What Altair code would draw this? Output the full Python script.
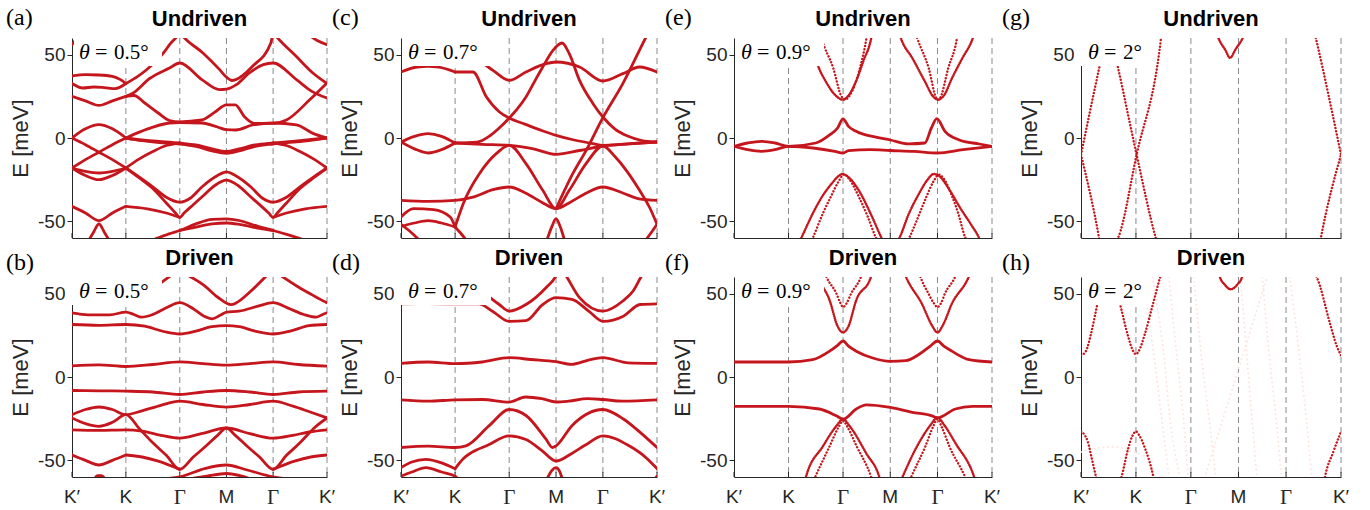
import altair as alt
import pandas as pd

RED = "#c5161d"
INK = "#262626"
DASH_GRAY = "#8a8a8a"
FAINT = "#fde6e1"

# high-symmetry path: K', K, Gamma, M, Gamma, K'
K_PATH = [0.0, 1.0, 2.0, 2.866, 3.732, 4.732]
SANS_POS = [0.0, 1.0, 2.866, 4.732]
SANS_LAB = ["K′", "K", "M", "K′"]
SERIF_POS = [2.0, 3.732]
SERIF_LAB = ["Γ", "Γ"]
E_TICKS = [-50, 0, 50]

PANEL_W = [255, 256, 258, 260]
GAP_W = [1, 74, 77, 89]          # spacer before each panel column
LABEL_DX = [-66, -69, -69, -79]  # panel letter offset from panel's left edge
PANEL_H = 200
ROW_GAP = 39

TOP_PANELS = [("a", "0.5"), ("c", "0.7"), ("e", "0.9"), ("g", "2")]
BOT_PANELS = [("b", "0.5"), ("d", "0.7"), ("f", "0.9"), ("h", "2")]
HIDE_AXIS_TOP = {"a": False, "b": True, "c": False, "d": True,
                 "e": False, "f": False, "g": True, "h": False}

# ---------------- (a) undriven 0.5 deg ----------------
A_SOLID = {
    "t56L": [(0, 56), (0.08, 59.5), (0.15, 63)],
    "t56R": [(4.35, 63), (4.55, 58.5), (4.732, 56)],
    "lens1": [(0, 37.3), (0.25, 38), (0.5, 37.8), (0.75, 37), (0.9, 35), (1, 32.7)],
    "lens2": [(0, 32.7), (0.2, 30), (0.4, 30.6), (0.6, 30.2), (0.8, 29.6), (1, 32.7)],
    "c4": [(0, 25), (0.25, 22.3), (0.5, 19.6), (0.75, 22.3), (1, 25)],
    "B": [(1, 32.7), (1.2, 36.5), (1.4, 41.4), (1.72, 52), (1.81, 56), (1.97, 61.5), (2.01, 63),
          (2.06, 61), (2.43, 51), (2.74, 41), (2.866, 36.5), (2.97, 34.5), (3.04, 35), (3.35, 43),
          (3.69, 57), (3.74, 63), (3.79, 61), (4.16, 49), (4.47, 39), (4.732, 32.7)],
    "A": [(1, 25), (1.12, 26.7), (1.44, 35.7), (1.81, 42), (2, 45), (2.41, 35), (2.74, 29),
          (2.866, 29.3), (3.05, 32), (3.29, 39), (3.55, 44), (3.732, 45), (4.165, 35), (4.45, 28),
          (4.732, 24)],
    "up9": [(1, 25), (1.15, 25.5), (1.35, 21), (1.6, 15), (1.81, 10.5), (2, 9.7), (2.41, 10.8),
            (2.65, 15.5), (2.866, 19.9), (3.03, 19.9), (3.2, 12.8), (3.38, 8.8), (3.732, 8.8),
            (3.98, 10.8), (4.41, 22.9), (4.732, 33)],
    "dn9": [(1, 0), (1.25, 3.5), (1.5, 6.5), (1.81, 9), (2, 9.3), (2.41, 9), (2.7, 6.6),
            (2.866, 5), (3.04, 4.8), (3.35, 7.8), (3.732, 9), (4.165, 7.9), (4.47, 2.8), (4.732, 0)],
    "bump": [(0, 0), (0.25, 5.5), (0.5, 8), (0.75, 5.5), (1, 0)],
    "X1": [(0, 0), (0.25, -4), (0.5, -8.5), (0.75, -13), (1, -18)],
    "X2": [(0, -18), (0.25, -13), (0.5, -8.5), (0.75, -4), (1, 0)],
    "lensL1": [(0, -18), (0.25, -20), (0.5, -21), (0.75, -20), (1, -18)],
    "lensL2": [(0, -18), (0.25, -22.5), (0.5, -25), (0.75, -22.5), (1, -18)],
    "flat1": [(1, 0), (1.3, -1.2), (1.62, -2), (2, -3), (2.3, -4.2), (2.6, -6.5), (2.866, -8.1),
              (3.1, -6.5), (3.4, -4.2), (3.732, -3), (4.1, -2), (4.4, -1), (4.732, 0)],
    "flat2": [(1, 0), (1.3, -1.6), (1.62, -2.8), (2, -3.6), (2.3, -5), (2.6, -7.8), (2.866, -9.2),
              (3.1, -7.8), (3.4, -5), (3.732, -3.6), (4.1, -2.5), (4.4, -1.5), (4.732, 0)],
    "riseL": [(1, -18), (1.25, -12.5), (1.5, -8.1), (1.75, -4.5), (2, -3)],
    "riseR": [(3.732, -3), (3.98, -4.5), (4.23, -8.1), (4.48, -12.5), (4.732, -18)],
    "V1": [(1, -18), (1.25, -23.5), (1.5, -29.3), (1.75, -35.5), (2, -38.5), (2.2, -36),
           (2.41, -29.4), (2.7, -22.5), (2.866, -20.3), (3.03, -22.5), (3.32, -29.4), (3.53, -36),
           (3.732, -38.5), (3.98, -35.5), (4.23, -29.3), (4.48, -23.5), (4.732, -18)],
    "V2": [(1, -18), (1.25, -24), (1.5, -30.3), (1.75, -39), (1.92, -45), (2, -47.6), (2.08, -45),
           (2.25, -40), (2.41, -35.4), (2.65, -28.5), (2.866, -25.3), (3.08, -28.5), (3.32, -35.4),
           (3.48, -40), (3.65, -45), (3.732, -47.6), (3.81, -45), (3.98, -39), (4.23, -30.3),
           (4.48, -24), (4.732, -18)],
    "low1": [(0, -41), (0.25, -45), (0.5, -49.6), (0.75, -45), (1, -41)],
    "lowcap": [(0.3, -62), (0.4, -56.5), (0.5, -51.6), (0.6, -56.5), (0.7, -62)],
    "low2": [(1, -41), (1.4, -42.5), (1.75, -45), (2, -47.6)],
    "low3": [(3.732, -47.6), (3.98, -45), (4.33, -42.5), (4.732, -41)],
    "arch1": [(1.55, -60.5), (1.8, -57.5), (2, -55.5), (2.3, -51.5), (2.6, -48.8), (2.866, -48.5),
              (3.1, -49.5), (3.45, -53), (3.732, -55.5), (4.0, -58), (4.25, -60.5)],
    "arch2": [(2, -55.5), (2.3, -53.5), (2.6, -51.5), (2.866, -51), (3.13, -52), (3.45, -54),
              (3.732, -55.5)],
}

# ---------------- (b) driven 0.5 deg ----------------
B_SOLID = {
    "b1": [(1.25, 48), (1.54, 54), (1.86, 61.5)],
    "b2": [(2.15, 61), (2.45, 55), (2.7, 48), (2.95, 43.4), (3.05, 44.5), (3.3, 51), (3.6, 60.5)],
    "b3": [(3.87, 61), (4.2, 54), (4.5, 48.5), (4.732, 44.5)],
    "b4": [(0, 38.5), (0.3, 37.3), (0.7, 37.3), (1, 38.9), (1.15, 37.5), (1.29, 35.9), (1.5, 37.5),
           (1.75, 41.5), (2, 44.6), (2.25, 41), (2.45, 36.5), (2.6, 34.9), (2.75, 37), (2.866, 38.9),
           (3.1, 39.5), (3.45, 42.5), (3.732, 44.6), (4.0, 41.5), (4.3, 37.5), (4.53, 35.9),
           (4.65, 37.5), (4.732, 38.5)],
    "b5": [(0, 31.5), (0.5, 31), (1, 31.5), (1.35, 30.5), (1.7, 27.3), (2, 25.8), (2.3, 27.5),
           (2.6, 30.2), (2.866, 30.8), (3.1, 30.2), (3.4, 27.5), (3.732, 25.8), (4.05, 27.5),
           (4.4, 30.8), (4.732, 31.5)],
    "b6": [(0, 6.7), (0.5, 7.3), (1, 6.3), (1.5, 7.5), (2, 9.1), (2.43, 8), (2.866, 7.1), (3.3, 8),
           (3.732, 9.1), (4.2, 7.5), (4.732, 6.5)],
    "b7": [(0, -8.1), (0.5, -8.3), (1, -8.5), (1.5, -9), (2, -10.5), (2.43, -9), (2.866, -8.1),
           (3.3, -9), (3.732, -10.5), (4.2, -9), (4.732, -8.5)],
    "bY": [(0, -22.6), (0.25, -19.5), (0.5, -18), (0.75, -19.5), (1, -22.6), (1.3, -20.3),
           (1.65, -17), (2, -14.5), (2.43, -16.5), (2.866, -18.1), (3.3, -16.5), (3.732, -14.5),
           (4.1, -17.5), (4.42, -21), (4.732, -24.5)],
    "bX": [(0, -24.6), (0.25, -28), (0.5, -29.6), (0.75, -27.2), (1, -22.6), (1.25, -31),
           (1.5, -39.5), (1.75, -47), (2, -55.4), (2.25, -48), (2.476, -41.7), (2.7, -35),
           (2.866, -30.6), (3.03, -35), (3.256, -41.7), (3.48, -48), (3.732, -55.4), (3.98, -47),
           (4.23, -39.5), (4.48, -31), (4.732, -24.6)],
    "bZ": [(0, -31.7), (0.5, -32), (1, -31.7), (1.3, -32.5), (1.65, -35), (2, -36.7), (2.4, -34),
           (2.866, -30.6), (3.3, -34), (3.732, -36.7), (4.1, -35), (4.4, -33), (4.732, -31.7)],
    "bL1": [(0, -46.8), (0.25, -50), (0.5, -52.8), (0.75, -50), (1, -46.8)],
    "bL2": [(1, -46.8), (1.3, -48), (1.6, -50.5), (2, -55.4)],
    "bL3": [(3.732, -55.4), (4.13, -50.5), (4.43, -48), (4.732, -46.8)],
    "barch": [(1.75, -61), (2, -59.9), (2.476, -54.8), (2.866, -52.8), (3.25, -55.8),
              (3.732, -59.9), (3.95, -61)],
    "barch2": [(2.2, -61), (2.5, -59.5), (2.866, -57.9), (3.15, -59.5), (3.3, -61)],
    "btiny": [(0.42, -61), (0.47, -59.2), (0.55, -59.2), (0.61, -61)],
}

# ---------------- (c) undriven 0.7 deg ----------------
C_SOLID = {
    "tl": [(0, 39.6), (0.3, 42.6), (0.5, 43), (0.7, 42.5), (1, 39.6)],
    "U": [(1.25, 49), (1.52, 44.6), (1.7, 40.6), (2, 34.6), (2.31, 39.6), (2.68, 44.6),
          (2.866, 45.6), (3.3, 42.6), (3.732, 34.2), (4.1, 38.6), (4.41, 42.6), (4.732, 39.6)],
    "diag": [(1, 39.6), (1.33, 39.6), (1.58, 24.6), (1.82, 15.6), (2, 12), (2.3, 8.2), (2.6, 4.5),
             (2.866, 1.6), (3.2, -1.2), (3.55, -3.4), (3.732, -4.4), (4.2, -3.5), (4.732, -2.4)],
    "Mpeak": [(1, -3), (1.4, -2.5), (1.65, 1.5), (1.85, 7), (2, 12), (2.15, 17.5), (2.31, 24.6),
              (2.47, 34), (2.62, 42.6), (2.81, 52.6), (2.977, 57), (3.11, 50.6), (3.30, 34.6),
              (3.55, 20.6), (3.732, 12.6), (3.95, 5.5), (4.2, 1), (4.45, -1.5), (4.732, -2.4)],
    "long": [(2.866, -42.4), (3.175, -21.4), (3.423, -7.4), (3.732, 12.2), (4.1, 32.6),
             (4.53, 60.6), (4.6, 65)],
    "flat": [(1, -3), (1.5, -3.8), (2, -4.4), (2.45, -6.5), (2.866, -9.8), (3.3, -7.5),
             (3.732, -4.8), (4.2, -3.5), (4.732, -2.4)],
    "lensU": [(0, -2.4), (0.25, 1), (0.5, 2.6), (0.75, 1), (1, -3)],
    "lensD": [(0, -2.4), (0.25, -6.5), (0.5, -9), (0.75, -7), (1, -3)],
    "par": [(1, -53.4), (1.15, -39.4), (1.45, -21.4), (1.76, -9.4), (2, -4.4), (2.31, -15.4),
            (2.62, -31.4), (2.866, -42.4), (3.11, -31.4), (3.42, -15.4), (3.732, -4.8),
            (3.95, -11), (4.164, -19.4), (4.41, -31.4), (4.6, -42), (4.732, -51.8)],
    "m37": [(0, -37.4), (0.5, -38), (1, -37.4), (1.33, -35.5), (1.7, -31), (2, -29.4), (2.3, -33),
            (2.6, -38.5), (2.866, -42.4), (3.13, -38.5), (3.43, -33), (3.732, -29.4), (4.1, -33),
            (4.4, -36.5), (4.732, -37.4)],
    "bl1": [(0, -47.4), (0.23, -42.4), (0.6, -43), (0.91, -47.4), (1, -53.4)],
    "bl2": [(0, -53), (0.25, -51), (0.5, -49.6), (0.75, -51), (1, -53.4)],
    "bl3": [(0, -51.8), (0.2, -57), (0.33, -61)],
    "Kdn": [(1, -53.4), (1.1, -57), (1.2, -61)],
    "Mcap": [(2.7, -61), (2.79, -53), (2.866, -48.4), (2.94, -53), (3.02, -61)],
    "Rdn": [(4.53, -61), (4.62, -57), (4.732, -51.8)],
}

# ---------------- (d) driven 0.7 deg ----------------
D_SOLID = {
    "top": [(0, 43.9), (0.5, 44), (1, 43.9), (1.44, 43.9), (1.69, 39.5), (2, 33.4), (2.31, 33.8),
            (2.62, 43.5), (2.866, 47.6), (3.16, 46.6), (3.47, 39.5), (3.732, 33.4), (4.11, 36.5),
            (4.42, 43.5), (4.732, 43.9)],
    "top2L": [(1.3, 56), (1.57, 49.6), (1.815, 43.5), (2, 39.5), (2.31, 43.5), (2.68, 53.6),
              (2.866, 60.7), (2.9, 63)],
    "top2R": [(3.0, 63), (3.05, 60.7), (3.30, 47.6), (3.732, 39.5), (4.1, 45.6), (4.29, 51.6),
              (4.45, 60.7), (4.5, 63)],
    "d7": [(0, 8.2), (0.5, 9), (1, 8), (1.5, 9), (2, 11.6), (2.4, 10.5), (2.866, 9.2), (3.15, 7.6),
           (3.45, 10), (3.732, 11.6), (4.2, 8.5), (4.732, 8.2)],
    "d14": [(0, -13.7), (0.5, -14.5), (1, -13.7), (1.5, -13.5), (2, -15.1), (2.3, -12), (2.6, -13),
            (2.866, -15), (3.1, -14.5), (3.45, -13), (3.732, -13.5), (4.1, -14.5), (4.732, -13.7)],
    "Gpk": [(0, -42.3), (0.5, -41.5), (1, -42.3), (1.2, -41.3), (1.63, -29.2), (2, -19.5),
            (2.31, -23.1), (2.68, -37.3), (2.8, -42.3), (2.866, -41.3), (3.16, -29.2),
            (3.732, -19.5), (4.11, -25.2), (4.42, -33.2), (4.732, -42.3)],
    "Gpk2": [(1, -55), (1.15, -49), (1.3, -45.4), (1.6, -41), (2, -35.3), (2.31, -37.5),
             (2.6, -44), (2.866, -50.4), (3.15, -46), (3.4, -41), (3.732, -35.3), (4.2, -41),
             (4.55, -49), (4.732, -55)],
    "bl1": [(0, -54.4), (0.2, -51), (0.46, -49.4), (0.75, -51.5), (1, -55)],
    "bl2": [(0, -59.5), (0.2, -57), (0.46, -54.4), (0.75, -57), (1, -59.5), (1.05, -61)],
    "Mcap": [(2.7, -61), (2.79, -56), (2.866, -54.4), (2.93, -56.5), (2.98, -61)],
    "rdot": [(4.70, -61), (4.732, -59.5)],
}

# ---------------- (e) undriven 0.9 deg ----------------
E_SOLID = {
    "up": [(0, -5), (0.25, -3), (0.5, -2), (0.75, -3), (1, -5), (1.5, -3), (1.76, 2), (1.9, 6),
           (2, 11.5), (2.1, 7), (2.24, 4), (2.6, 0.5), (2.866, -1.2), (3.2, -3.5), (3.5, -3),
           (3.62, 6), (3.72, 11.6), (3.87, 4), (4.12, -1), (4.5, -3.6), (4.732, -5)],
    "dn": [(0, -5), (0.25, -7), (0.5, -8), (0.75, -7), (1, -5), (1.45, -6), (1.85, -8), (2, -9),
           (2.1, -7.6), (2.5, -7), (2.866, -7.5), (3.3, -8), (3.732, -9), (4.2, -7), (4.732, -5)],
}
E_DENSE = {
    "pGo": [(1.40, 61), (1.515, 46), (1.7, 33), (1.9, 24.5), (1.99, 23), (2.1, 25.5), (2.25, 35),
            (2.37, 46), (2.518, 60), (2.53, 62)],
    "pG2o": [(3.04, 62), (3.06, 60), (3.27, 48), (3.50, 34), (3.65, 25), (3.74, 23), (3.85, 25.5),
             (4.0, 36), (4.19, 48), (4.38, 60), (4.4, 62)],
    "vGo": [(1.22, -61), (1.24, -59.6), (1.45, -45), (1.6, -36), (1.8, -27), (1.93, -22.5),
            (1.98, -21.6), (2.08, -23), (2.3, -32), (2.5, -45), (2.7, -59.6), (2.72, -61)],
    "vG2o": [(3.02, -61), (3.04, -59.6), (3.2, -46), (3.4, -33), (3.55, -25), (3.66, -21.6),
             (3.77, -23), (3.95, -31), (4.15, -42), (4.35, -52), (4.49, -59.6), (4.51, -61)],
}
E_DOTTED = {
    "pGi": [(1.59, 62), (1.606, 60), (1.82, 42), (1.97, 25), (2.04, 23), (2.11, 25), (2.31, 42),
            (2.43, 60), (2.44, 62)],
    "pG2i": [(3.34, 62), (3.36, 60), (3.57, 42), (3.71, 24), (3.745, 23), (3.78, 24), (3.93, 42),
             (4.09, 60), (4.1, 62)],
    "vGi": [(1.43, -61), (1.45, -59.6), (1.62, -46), (1.78, -35), (1.92, -26), (2.02, -21.8),
            (2.12, -25), (2.3, -36), (2.45, -47), (2.6, -59.6), (2.62, -61)],
    "vG2i": [(3.2, -61), (3.22, -59.6), (3.37, -48), (3.52, -36), (3.66, -26), (3.76, -22),
             (3.86, -25), (4.0, -35), (4.12, -46), (4.24, -59.6), (4.26, -61)],
}

# ---------------- (f) driven 0.9 deg ----------------
F_SOLID = {
    "up": [(0, 9), (0.5, 9), (1, 9), (1.444, 10.4), (1.753, 15.5), (1.9, 19), (2, 21.6),
           (2.1, 18.5), (2.242, 15.5), (2.545, 11.4), (2.866, 9.4), (3.15, 9.8), (3.39, 13.5),
           (3.6, 18.5), (3.732, 21.6), (3.85, 18.5), (3.996, 15.5), (4.31, 10.4), (4.732, 9)],
    "dn": [(0, -17.6), (1, -17.6), (1.568, -19.2), (1.877, -23.3), (2, -25.3), (2.242, -19.2),
           (2.424, -16.7), (2.866, -18.2), (3.27, -21.2), (3.63, -23.3), (3.732, -24.5),
           (4.06, -19.2), (4.37, -17.6), (4.732, -17.6)],
}
F_DENSE = {
    "pGo": [(1.52, 62), (1.537, 60.4), (1.753, 46.1), (1.9, 30.5), (2, 26.7), (2.1, 30.5),
            (2.242, 46.1), (2.515, 60.4), (2.53, 62)],
    "pG2o": [(3.13, 62), (3.15, 60.4), (3.445, 44), (3.63, 31), (3.732, 26.7), (3.83, 31),
             (3.996, 44), (4.31, 60.4), (4.33, 62)],
    "vGo": [(1.31, -61.5), (1.32, -60), (1.63, -41.6), (1.877, -29.4), (2, -25.3), (2.12, -29.4),
            (2.424, -45.7), (2.666, -60), (2.68, -61.5)],
    "vG2o": [(3.07, -61.5), (3.09, -60), (3.39, -39.6), (3.6, -29), (3.732, -24.3), (3.86, -29),
             (4.06, -39.6), (4.405, -60), (4.42, -61.5)],
}
F_DOTTED = {
    "pGi": [(1.67, 62), (1.69, 60.4), (1.877, 50.2), (1.95, 44.5), (2, 42), (2.07, 44.5),
            (2.151, 50.2), (2.333, 60.4), (2.35, 62)],
    "pG2i": [(3.4, 62), (3.416, 60.4), (3.565, 50.2), (3.66, 44.5), (3.732, 42), (3.8, 44.5),
             (3.87, 50.2), (4.06, 60.4), (4.08, 62)],
    "vGi": [(1.47, -61.5), (1.49, -60), (1.753, -41.6), (1.92, -30), (2, -26.3), (2.08, -30),
            (2.25, -41.6), (2.515, -60), (2.53, -61.5)],
    "vG2i": [(3.23, -61.5), (3.25, -60), (3.51, -41.6), (3.65, -30), (3.732, -25.3), (3.81, -30),
             (3.95, -41.6), (4.24, -60), (4.26, -61.5)],
}

# ---------------- (g) undriven 2 deg ----------------
G_DOTTED = {
    "a": [(0, -10), (0.327, 41.4), (0.43, 57)],
    "b": [(0, -10), (0.327, -59.6), (0.34, -62)],
    "c": [(0.55, 60), (0.679, 41.4), (1.012, -10), (1.358, -59.6), (1.37, -61)],
    "d": [(0.66, -61), (0.679, -59.6), (1.012, -10), (1.455, 59.6), (1.46, 61)],
    "f": [(4.26, 62), (4.277, 59.6), (4.732, -10)],
    "g": [(4.36, -61), (4.368, -59.6), (4.732, -10)],
}
G_DENSE = {
    "M": [(2.48, 62), (2.488, 61.2), (2.622, 53.1), (2.714, 48.1), (2.81, 53.1), (2.96, 61.2),
          (2.97, 62)],
}

# ---------------- (h) driven 2 deg ----------------
H_DOTTED = {
    "a": [(0, 13), (0.092, 15.7), (0.184, 26.2), (0.276, 40.4), (0.35, 52)],
    "b": [(0.65, 52), (0.736, 40.4), (0.859, 24.2), (0.95, 15.5), (1.0, 13.6), (1.05, 15.5),
          (1.166, 26.2), (1.3, 42.6), (1.44, 59.8), (1.46, 62)],
    "c": [(0, -32.7), (0.06, -34.5), (0.123, -38.8), (0.2, -49.5), (0.276, -60.2), (0.29, -62)],
    "d": [(0.72, -62), (0.736, -60.2), (0.859, -42.9), (0.94, -35), (1, -32.7), (1.06, -35),
          (1.166, -42.9), (1.319, -60.2), (1.33, -62)],
    "f": [(4.25, 62), (4.29, 59.8), (4.53, 32.3), (4.65, 19), (4.732, 13)],
    "g": [(4.43, -62), (4.44, -60.2), (4.593, -44.9), (4.732, -32.7)],
}
H_DENSE = {
    "M": [(2.52, 62), (2.53, 59.8), (2.61, 55.7), (2.725, 52.6), (2.85, 55.7), (2.93, 59.8),
          (2.94, 62)],
}
H_FAINT = {
    "f1": [(2.25, -60.5), (3.385, 59.8)],
    "f2": [(0, -45), (0.12, -44), (0.55, -41.9), (0.98, -45), (1.3, -50)],
    "f3": [(1.12, 60), (1.3, 20), (1.45, -20), (1.6, -60)],
    "f4": [(1.3, 60), (1.5, 15), (1.62, -25), (1.8, -60)],
    "f5": [(1.6, 60), (1.72, 20), (1.85, -20), (1.95, -60)],
    "f6": [(2.05, 60), (2.2, 10), (2.35, -30), (2.45, -60)],
    "f7": [(2.9, 60), (3.0, 20), (3.1, -20), (3.2, -60)],
    "f8": [(3.3, 60), (3.42, 15), (3.55, -25), (3.65, -60)],
    "f9": [(3.8, 60), (3.95, 20), (4.1, -25), (4.2, -60)],
}

PANEL_DATA = {
    "a": (A_SOLID, {}, {}, {}),
    "b": (B_SOLID, {}, {}, {}),
    "c": (C_SOLID, {}, {}, {}),
    "d": (D_SOLID, {}, {}, {}),
    "e": (E_SOLID, E_DENSE, E_DOTTED, {}),
    "f": (F_SOLID, F_DENSE, F_DOTTED, {}),
    "g": ({}, G_DENSE, G_DOTTED, {}),
    "h": ({}, H_DENSE, H_DOTTED, H_FAINT),
}


def to_df(bands):
    rows = []
    for name, pts in bands.items():
        for u, e in pts:
            rows.append({"band": name, "x": u, "E": e})
    return pd.DataFrame(rows)


XENC = alt.X("x:Q", scale=alt.Scale(domain=[0, 4.732], nice=False, zero=False),
             axis=alt.Axis(values=K_PATH, labels=False, ticks=False, title=None, grid=False,
                           domainColor=INK, zindex=0))
YENC = alt.Y("E:Q", scale=alt.Scale(domain=[-60, 60], nice=False, zero=False),
             axis=alt.Axis(values=E_TICKS, title="E [meV]", grid=False, tickSize=5,
                           labelPadding=2, titlePadding=5, zindex=0,
                           labelExpr="replace(datum.label, '−', '-')"))

ONE = pd.DataFrame({"k": [0]})


def panel(letter, theta, title, width, bottom):
    solid, dense, dotted, faint = PANEL_DATA[letter]
    layers = []
    layers.append(alt.Chart(pd.DataFrame({"x": K_PATH[1:]})).mark_rule(
        strokeDash=[6, 4], color=DASH_GRAY, strokeWidth=1).encode(x=XENC))
    layers.append(alt.Chart(pd.DataFrame({"x": K_PATH})).mark_rule(
        color=INK, strokeWidth=1).encode(x=XENC, y=alt.value(PANEL_H - 5), y2=alt.value(PANEL_H)))
    if faint:
        layers.append(alt.Chart(to_df(faint)).mark_line(
            clip=True, interpolate="monotone", color=FAINT, strokeWidth=2.0,
            strokeDash=[0.1, 4.5], strokeCap="round").encode(x=XENC, y=YENC, detail="band:N"))
    if solid:
        layers.append(alt.Chart(to_df(solid)).mark_line(
            clip=True, interpolate="monotone", color=RED, strokeWidth=2.8,
            strokeCap="round").encode(x=XENC, y=YENC, detail="band:N"))
    if dense:
        layers.append(alt.Chart(to_df(dense)).mark_line(
            clip=True, interpolate="monotone", color=RED, strokeWidth=2.5,
            strokeDash=[0.1, 1.9], strokeCap="round").encode(x=XENC, y=YENC, detail="band:N"))
    if dotted:
        layers.append(alt.Chart(to_df(dotted)).mark_line(
            clip=True, interpolate="monotone", color=RED, strokeWidth=2.4,
            strokeDash=[0.1, 3.2], strokeCap="round").encode(x=XENC, y=YENC, detail="band:N"))
    x0 = -7 if HIDE_AXIS_TOP[letter] else 2
    x1 = 66 if theta == "2" else 90
    layers.append(alt.Chart(ONE).mark_rect(color="white").encode(
        x=alt.value(x0), x2=alt.value(x1), y=alt.value(0), y2=alt.value(28)))
    layers.append(alt.Chart(ONE).mark_text(
        text="θ", font="Liberation Serif", fontStyle="italic", fontSize=22, align="left",
        baseline="alphabetic", color="black").encode(x=alt.value(7), y=alt.value(21)))
    layers.append(alt.Chart(ONE).mark_text(
        text="=", font="Liberation Serif", fontSize=22, align="left",
        baseline="alphabetic", color="black").encode(x=alt.value(23), y=alt.value(21)))
    layers.append(alt.Chart(ONE).mark_text(
        text=theta + "°", font="Liberation Serif", fontSize=21, align="left",
        baseline="alphabetic", color="black").encode(x=alt.value(42), y=alt.value(21)))
    if bottom:
        layers.append(alt.Chart(pd.DataFrame({"x": SANS_POS, "lab": SANS_LAB})).mark_text(
            font="Liberation Sans", fontSize=19, baseline="top", align="center", color=INK
        ).encode(x=XENC, y=alt.value(PANEL_H + 11), text="lab:N"))
        layers.append(alt.Chart(pd.DataFrame({"x": SERIF_POS, "lab": SERIF_LAB})).mark_text(
            font="Liberation Serif", fontSize=21, baseline="top", align="center", color=INK
        ).encode(x=XENC, y=alt.value(PANEL_H + 10), text="lab:N"))
    return alt.layer(*layers).properties(
        width=width, height=PANEL_H,
        title=alt.TitleParams(title, font="Liberation Sans", fontSize=22, fontWeight="bold",
                              color="black", anchor="middle", offset=7, frame="group"))


def spacer(w, letter, dx, bottom):
    # an empty gap column that carries the panel letter of the panel to its right
    return alt.Chart(ONE).mark_text(
        text="(" + letter + ")", font="Liberation Serif", fontSize=24, align="left",
        baseline="middle", color="black").encode(
        x=alt.value(w + dx), y=alt.value(-14 if bottom else -20)
    ).properties(width=w, height=PANEL_H)


cells = []
for row, panels, title in [(0, TOP_PANELS, "Undriven"), (1, BOT_PANELS, "Driven")]:
    for i, (letter, theta) in enumerate(panels):
        cells.append(spacer(GAP_W[i], letter, LABEL_DX[i], row == 1))
        cells.append(panel(letter, theta, title, PANEL_W[i], row == 1))

chart = alt.concat(*cells, columns=8).properties(
    bounds="flush", spacing={"row": ROW_GAP, "column": 0},
    padding={"left": 6, "top": 6, "right": 5, "bottom": 2}
).configure_view(stroke=None).configure_axis(
    labelFont="Liberation Sans", labelFontSize=19, labelColor=INK,
    titleFont="Liberation Sans", titleFontSize=22, titleFontWeight="normal", titleColor=INK,
    domainColor=INK, tickColor=INK, domainWidth=1, tickWidth=1
)

chart.save("out.html", embed_options={"renderer": "svg", "actions": False})
